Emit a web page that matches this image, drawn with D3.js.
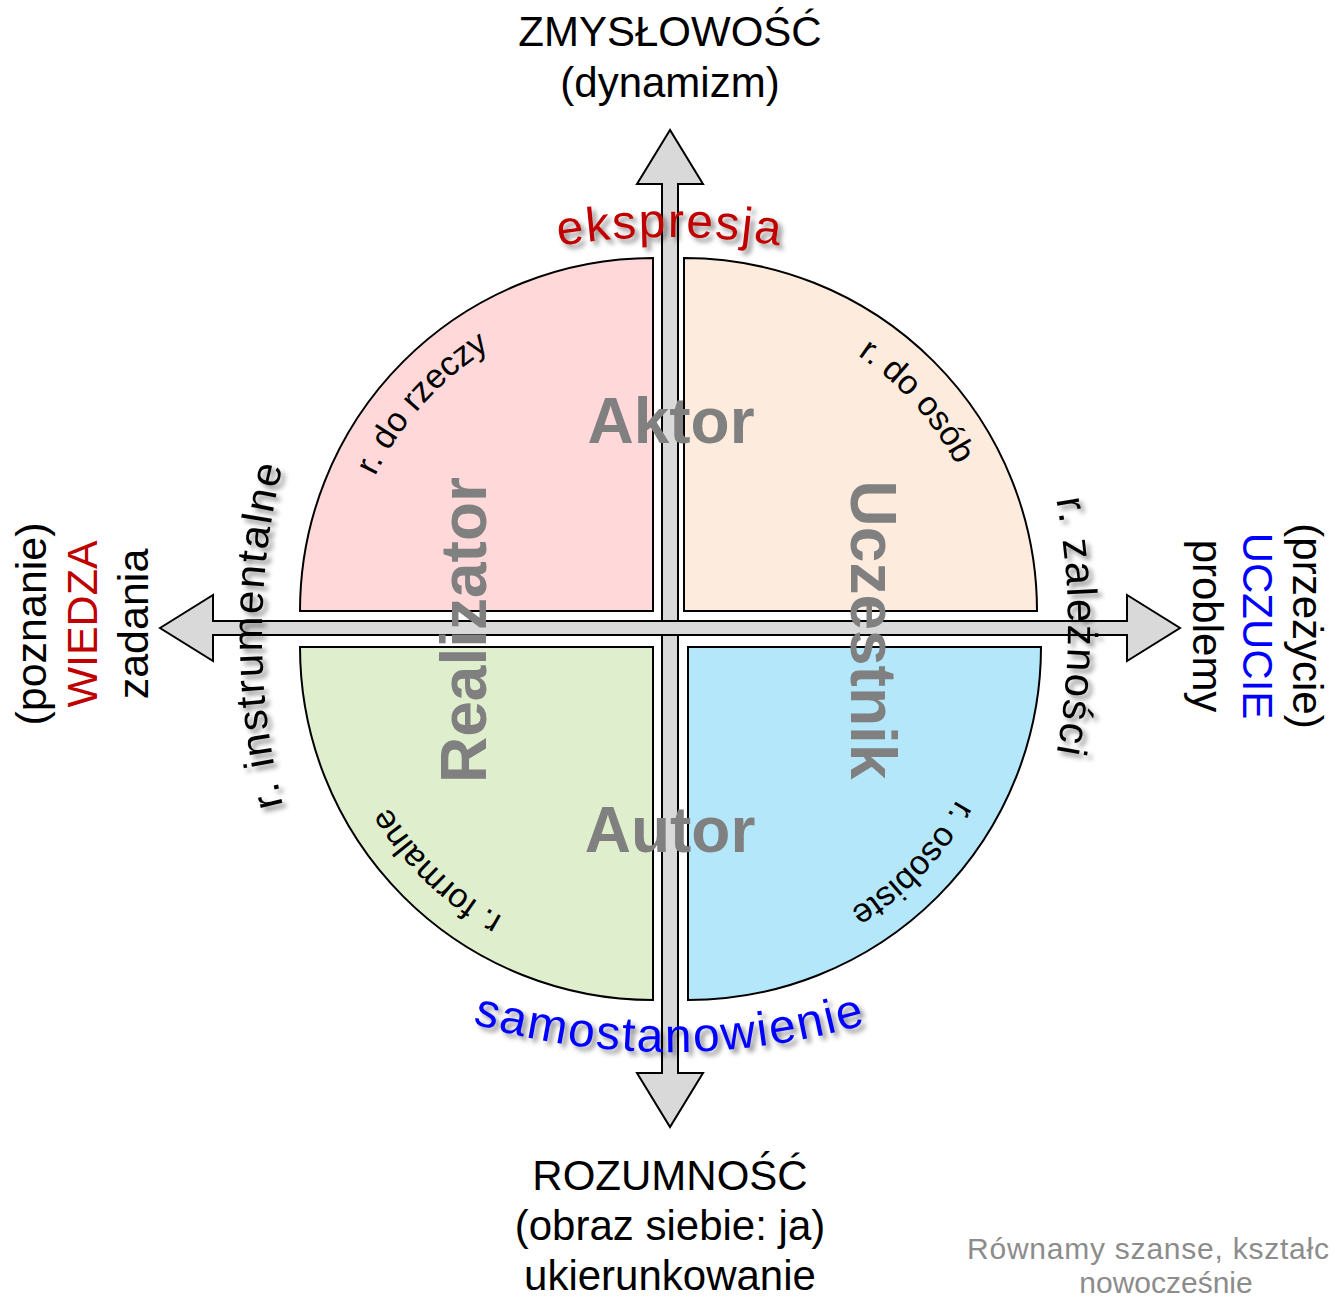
<!DOCTYPE html>
<html>
<head>
<meta charset="utf-8">
<script src="https://cdn.jsdelivr.net/npm/d3@7"></script>
<style>
  html, body { margin: 0; padding: 0; background: #fff; }
  svg { display: block; font-family: "Liberation Sans", Arial, Helvetica, sans-serif; }
</style>
</head>
<body>
<svg id="chart"></svg>
<script>
const width = 1333;
const height = 1300;

// pole captions of the two axes
const topLabels = ["ZMYSŁOWOŚĆ", "(dynamizm)"];
const bottomLabels = ["ROZUMNOŚĆ", "(obraz siebie: ja)", "ukierunkowanie"];
const leftLabels = ["(poznanie)", "WIEDZA", "zadania"];
const rightLabels = ["(przeżycie)", "UCZUCIE", "problemy"];

// big grey roles: top, right, bottom, left
const roles = ["Aktor", "Uczestnik", "Autor", "Realizator"];

// quadrants, clockwise from top-left
const quadrants = ["r. do rzeczy", "r. do osób", "r. osobiste", "r. formalne"];
const quadrantColors = ["#ffd9d9", "#fdecde", "#b4e7f9", "#dfefce"];

// curved captions outside the circle: top, right, bottom, left
const outerCaptions = ["ekspresja", "r. zależności", "samostanowienie", "r. instrumentalne"];

const footer = ["Równamy szanse, kształc", "nowocześnie"];

// ---- layout ----
const C = { x: 670, y: 628 };
const R = 353;
const cornerOffset = [[-17, -17], [14, -17], [18, 19], [-17, 19]];
const quadLabelMid = [222, 318, 44, 134];   // degrees, 0 = 3 o'clock
const quadLabelRadius = 309;

const rad = d => d * Math.PI / 180;
const angle = d3.scaleLinear().domain([0, 4]).range([-Math.PI / 2, 1.5 * Math.PI]);
const radius = d3.scaleLinear().domain([0, 1]).range([0, R]);
const fill = d3.scaleOrdinal().domain(quadrants).range(quadrantColors);

const svg = d3.select("#chart")
  .attr("width", width)
  .attr("height", height);

const defs = svg.append("defs");
const shadow = defs.append("filter")
  .attr("id", "shadow")
  .attr("x", "-20%").attr("y", "-20%")
  .attr("width", "140%").attr("height", "140%");
shadow.append("feDropShadow")
  .attr("dx", 4).attr("dy", 4)
  .attr("stdDeviation", 2.5)
  .attr("flood-color", "#000")
  .attr("flood-opacity", 0.45);

// ---- arrows ----
let arrowLine = d3.line();
let doubleArrow = function (half, shaft, head, headLen) {
  return [
    [-half, 0], [-half + headLen, -head], [-half + headLen, -shaft],
    [half - headLen, -shaft], [half - headLen, -head], [half, 0],
    [half - headLen, head], [half - headLen, shaft],
    [-half + headLen, shaft], [-half + headLen, head]
  ];
};

svg.append("path")
  .attr("d", arrowLine(doubleArrow(498.5, 8, 33, 54).map(([a, b]) => [C.x + b, 628.5 + a])) + "Z")
  .attr("fill", "#d9d9d9")
  .attr("stroke", "#000")
  .attr("stroke-width", 2)
  .attr("stroke-linejoin", "miter");

svg.append("path")
  .attr("d", arrowLine(doubleArrow(510, 7, 33, 53).map(([a, b]) => [C.x + a, C.y + b])) + "Z")
  .attr("fill", "#d9d9d9")
  .attr("stroke", "#000")
  .attr("stroke-width", 2)
  .attr("stroke-linejoin", "miter");

// ---- quadrants ----
const arc = d3.arc().innerRadius(0).outerRadius(radius(1));

svg.selectAll(".quad")
  .data(quadrants)
  .join("path")
  .attr("class", "quad")
  .attr("transform", (d, i) => `translate(${C.x + cornerOffset[i][0]}, ${C.y + cornerOffset[i][1]})`)
  .attr("d", (d, i) => arc({ startAngle: angle(i), endAngle: angle(i + 1) }))
  .attr("fill", d => fill(d))
  .attr("stroke", "#000")
  .attr("stroke-width", 2);

// quadrant captions along the rim
quadrants.forEach((d, i) => {
  const cx = C.x + cornerOffset[i][0];
  const cy = C.y + cornerOffset[i][1];
  const m = rad(quadLabelMid[i]);
  const p = d3.path();
  p.arc(cx, cy, quadLabelRadius, m - 0.7, m + 0.7, false);
  defs.append("path").attr("id", "qp" + i).attr("d", p.toString());
});

svg.selectAll(".qlabel")
  .data(quadrants)
  .join("text")
  .attr("class", "qlabel")
  .attr("font-size", 34)
  .attr("fill", "#000")
  .append("textPath")
  .attr("href", (d, i) => "#qp" + i)
  .attr("startOffset", "50%")
  .attr("text-anchor", "middle")
  .text(d => d);

// ---- big role names ----
const roleTransforms = [
  "translate(671, 443)",
  "translate(851, 630) rotate(90)",
  "translate(670, 852)",
  "translate(486, 630) rotate(-90)"
];

svg.selectAll(".role")
  .data(roles)
  .join("text")
  .attr("class", "role")
  .attr("transform", (d, i) => roleTransforms[i])
  .attr("text-anchor", "middle")
  .attr("font-size", 64)
  .attr("font-weight", "bold")
  .attr("fill", "#808080")
  .text(d => d);

// ---- curved outer captions ----
const captionArcs = [
  { cx: 670, cy: 937, a0: 250, a1: 290, ccw: false },
  { cx: 368, cy: 627, a0: -20, a1: 20, ccw: false },
  { cx: 670, cy: 352, a0: 110, a1: 70, ccw: true },
  { cx: 962, cy: 635, a0: 160, a1: 200, ccw: false }
];
const captionColors = ["#c00000", "#000", "#0000ff", "#000"];
const captionSizes = [48, 42, 48, 42];

captionArcs.forEach((c, i) => {
  const p = d3.path();
  p.arc(c.cx, c.cy, 700, rad(c.a0), rad(c.a1), c.ccw);
  defs.append("path").attr("id", "cp" + i).attr("d", p.toString());
});

svg.selectAll(".caption")
  .data(outerCaptions)
  .join("text")
  .attr("class", "caption")
  .attr("font-size", (d, i) => captionSizes[i])
  .attr("letter-spacing", 2)
  .attr("fill", (d, i) => captionColors[i])
  .attr("filter", "url(#shadow)")
  .append("textPath")
  .attr("href", (d, i) => "#cp" + i)
  .attr("startOffset", "50%")
  .attr("text-anchor", "middle")
  .text(d => d);

// ---- pole labels ----
svg.selectAll(".top")
  .data(topLabels)
  .join("text")
  .attr("class", "top")
  .attr("x", C.x)
  .attr("y", (d, i) => 46 + i * 51)
  .attr("text-anchor", "middle")
  .attr("font-size", 42)
  .text(d => d);

svg.selectAll(".bottom")
  .data(bottomLabels)
  .join("text")
  .attr("class", "bottom")
  .attr("x", C.x)
  .attr("y", (d, i) => 1190 + i * 50)
  .attr("text-anchor", "middle")
  .attr("font-size", 42)
  .text(d => d);

svg.selectAll(".left")
  .data(leftLabels)
  .join("text")
  .attr("class", "left")
  .attr("transform", (d, i) => `translate(${46 + i * 51}, 624) rotate(-90)`)
  .attr("text-anchor", "middle")
  .attr("font-size", 43)
  .attr("fill", (d, i) => i === 1 ? "#c00000" : "#000")
  .text(d => d);

svg.selectAll(".right")
  .data(rightLabels)
  .join("text")
  .attr("class", "right")
  .attr("transform", (d, i) => `translate(${1293 - i * 50}, 626) rotate(90)`)
  .attr("text-anchor", "middle")
  .attr("font-size", 42)
  .attr("fill", (d, i) => i === 1 ? "#0000ff" : "#000")
  .text(d => d);

// ---- footer ----
svg.append("text")
  .attr("class", "footer")
  .attr("x", 967)
  .attr("y", 1259)
  .attr("font-size", 30)
  .attr("textLength", 362)
  .attr("lengthAdjust", "spacing")
  .attr("fill", "#8c8c8c")
  .text(footer[0]);

svg.append("text")
  .attr("class", "footer")
  .attr("x", 1166)
  .attr("y", 1293)
  .attr("text-anchor", "middle")
  .attr("font-size", 30)
  .attr("fill", "#8c8c8c")
  .text(footer[1]);
</script>
</body>
</html>
